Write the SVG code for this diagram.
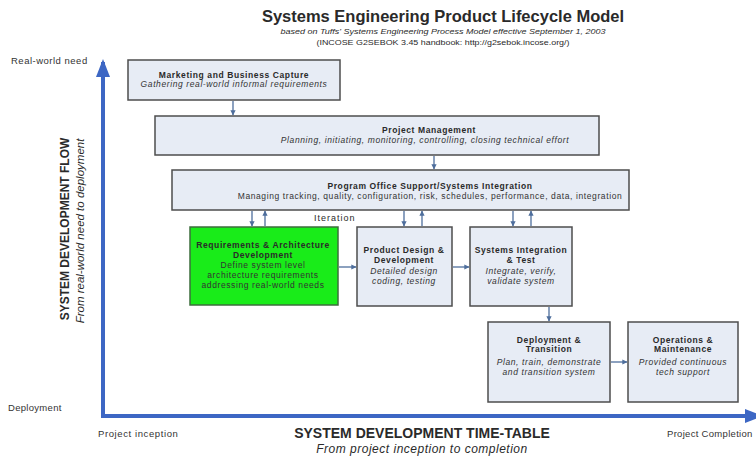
<svg xmlns="http://www.w3.org/2000/svg" width="756" height="457" viewBox="0 0 756 457">
<defs>
<marker id="ah" viewBox="0 0 10 10" refX="9" refY="5" markerWidth="4" markerHeight="4" orient="auto"><path d="M0,0 L10,5 L0,10 z" fill="#4e6e9c"/></marker>
<marker id="axh" viewBox="0 0 18 14" refX="15" refY="7" markerWidth="4.5" markerHeight="3.5" orient="auto"><path d="M0,0 L18,7 L0,14 z" fill="#3d67c4"/></marker>
</defs>
<style>
text{font-family:"Liberation Sans",Arial,sans-serif;fill:#2a2a2a}
.box{fill:#e7ecf5;stroke:#4d4d4d;stroke-width:1.5}
.green{fill:#19ec19;stroke:#3c6e3c;stroke-width:1.5}
.t{font-size:8.5px;font-weight:bold;text-anchor:middle;letter-spacing:0.6px}
.s{font-size:8.5px;font-style:italic;text-anchor:middle;letter-spacing:0.6px;fill:#333}
.n{font-style:normal}
.c{stroke:#4e6e9c;stroke-width:1.3;fill:none;marker-end:url(#ah)}
.ax{stroke:#3d67c4;stroke-width:4;fill:none;marker-end:url(#axh)}
.lbl{font-size:9.5px;letter-spacing:0.5px;fill:#333}
</style>
<rect width="756" height="457" fill="#fff"/>
<g id="title">
<text x="443" y="22" font-size="16.5" font-weight="bold" text-anchor="middle">Systems Engineering Product Lifecycle Model</text>
<text x="443" y="34" font-size="7.5" font-style="italic" text-anchor="middle" fill="#444" textLength="325" lengthAdjust="spacingAndGlyphs">based on Tuffs' Systems Engineering Process Model effective September 1, 2003</text>
<text x="443" y="45" font-size="7.5" text-anchor="middle" fill="#444" textLength="253" lengthAdjust="spacingAndGlyphs">(INCOSE G2SEBOK 3.45 handbook: http://g2sebok.incose.org/)</text>
</g>
<g id="axes">
<path class="ax" d="M103,418 L103,62"/>
<path class="ax" d="M101,416 L760,416"/>
<text x="11" y="64" class="lbl">Real-world need</text>
<text x="8" y="411" class="lbl" style="letter-spacing:0.3px">Deployment</text>
<text x="98" y="437" class="lbl" style="letter-spacing:0.6px">Project inception</text>
<text x="667" y="437" class="lbl" style="letter-spacing:0.3px">Project Completion</text>
<text x="422" y="438" font-size="14" font-weight="bold" text-anchor="middle">SYSTEM DEVELOPMENT TIME-TABLE</text>
<text x="422" y="453" font-size="12" font-style="italic" text-anchor="middle" letter-spacing="0.5">From project inception to completion</text>
<text transform="translate(69,229) rotate(-90)" font-size="12" font-weight="bold" text-anchor="middle">SYSTEM DEVELOPMENT FLOW</text>
<text transform="translate(84,231) rotate(-90)" font-size="11.5" font-style="italic" text-anchor="middle">From real-world need to deployment</text>
</g>
<g id="connectors">
<path class="c" d="M233,101 L233,115"/>
<path class="c" d="M434,156 L434,169"/>
<path class="c" d="M252,211 L252,226"/>
<path class="c" d="M265,226 L265,211"/>
<path class="c" d="M404,211 L404,226"/>
<path class="c" d="M422,226 L422,211"/>
<path class="c" d="M513,211 L513,226"/>
<path class="c" d="M531,226 L531,211"/>
<path class="c" d="M339,267 L356,267"/>
<path class="c" d="M453,267 L469,267"/>
<path class="c" d="M549,307 L549,321"/>
<path class="c" d="M611,362 L627,362"/>
<text x="314" y="221" font-size="9" letter-spacing="1">Iteration</text>
</g>
<g id="marketing">
<rect class="box" x="128" y="60" width="212" height="40"/>
<text class="t" x="234" y="78">Marketing and Business Capture</text>
<text class="s" x="234" y="87">Gathering real-world informal requirements</text>
</g>
<g id="pm">
<rect class="box" x="155" y="116" width="444" height="39"/>
<text class="t" x="429" y="133">Project Management</text>
<text class="s" x="425" y="143">Planning, initiating, monitoring, controlling, closing technical effort</text>
</g>
<g id="pos">
<rect class="box" x="172" y="170" width="457" height="40"/>
<text class="t" x="430" y="189">Program Office Support/Systems Integration</text>
<text class="s n" x="430" y="199">Managing tracking, quality, configuration, risk, schedules, performance, data, integration</text>
</g>
<g id="req">
<rect class="green" x="190" y="227" width="148" height="78"/>
<text class="t" x="263" y="248">Requirements &amp; Architecture</text>
<text class="t" x="263" y="257.5">Development</text>
<text class="s n" x="263" y="268">Define system level</text>
<text class="s n" x="263" y="278">architecture requirements</text>
<text class="s n" x="263" y="288">addressing real-world needs</text>
</g>
<g id="pdd">
<rect class="box" x="357" y="227" width="95" height="79"/>
<text class="t" x="404" y="253">Product Design &amp;</text>
<text class="t" x="404" y="263">Development</text>
<text class="s" x="404" y="274">Detailed design</text>
<text class="s" x="404" y="284">coding, testing</text>
</g>
<g id="sit">
<rect class="box" x="470" y="227" width="102" height="79"/>
<text class="t" x="521" y="253">Systems Integration</text>
<text class="t" x="521" y="263">&amp; Test</text>
<text class="s" x="521" y="274">Integrate, verify,</text>
<text class="s" x="521" y="284">validate system</text>
</g>
<g id="dt">
<rect class="box" x="488" y="322" width="122" height="80"/>
<text class="t" x="549" y="343">Deployment &amp;</text>
<text class="t" x="549" y="352">Transition</text>
<text class="s" x="549" y="365">Plan, train, demonstrate</text>
<text class="s" x="549" y="375">and transition system</text>
</g>
<g id="om">
<rect class="box" x="628" y="322" width="110" height="80"/>
<text class="t" x="683" y="343">Operations &amp;</text>
<text class="t" x="683" y="352">Maintenance</text>
<text class="s" x="683" y="365">Provided continuous</text>
<text class="s" x="683" y="375">tech support</text>
</g>
</svg>
